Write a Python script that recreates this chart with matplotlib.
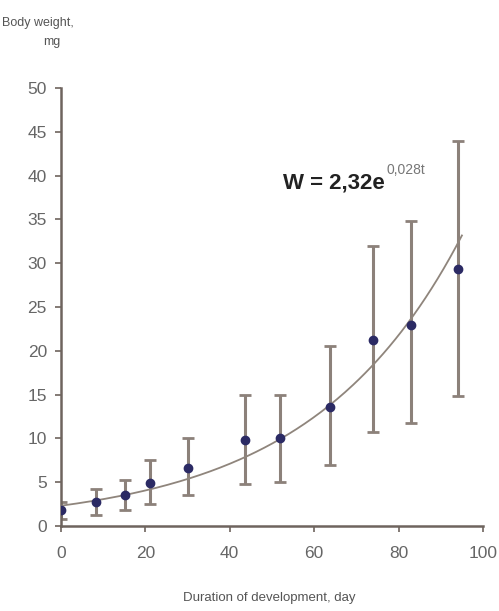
import numpy as np
import matplotlib
matplotlib.use("Agg")
import matplotlib.pyplot as plt

plt.rcParams['font.family'] = ['Liberation Sans', 'DejaVu Sans']

days = [0, 8.3, 15.2, 21.1, 30.1, 43.6, 51.9, 63.7, 74, 83, 94]
weight = [1.8, 2.7, 3.5, 4.9, 6.6, 9.8, 10.0, 13.6, 21.2, 23.0, 29.3]
err_hi = [2.8, 4.2, 5.3, 7.5, 10.0, 15.0, 15.0, 20.5, 32.0, 34.8, 44.0]
err_lo = [0.8, 1.3, 1.8, 2.5, 3.5, 4.8, 5.0, 7.0, 10.7, 11.8, 14.8]
fit_a = 2.32
fit_b = 0.028
x_ticks = [0, 20, 40, 60, 80, 100]
y_ticks = [0, 5, 10, 15, 20, 25, 30, 35, 40, 45, 50]

fig = plt.figure(figsize=(4.99, 6.11), dpi=100)
ax = fig.add_axes([0.122, 0.139, 0.846, 0.717])

d = np.array(days)
w = np.array(weight)
lo = w - np.array(err_lo)
hi = np.array(err_hi) - w
ax.errorbar(d, w, yerr=[lo, hi], fmt='none', ecolor='#8c817a', elinewidth=2.2,
            capsize=4, capthick=2, zorder=2)
xf = np.linspace(0, 95, 200)
ax.plot(xf, fit_a * np.exp(fit_b * xf), color='#8f857c', lw=1.3, zorder=3)
ax.plot(d, w, 'o', color='#2b2a64', ms=6, zorder=4)

ax.set_xlim(0, 100)
ax.set_ylim(0, 50)
ax.set_xticks(x_ticks)
ax.set_yticks(y_ticks)
for s in ['top', 'right']:
    ax.spines[s].set_visible(False)
for s in ['left', 'bottom']:
    ax.spines[s].set_color('#6e645e')
    ax.spines[s].set_linewidth(1.8)
ax.tick_params(colors='#6e645e', labelcolor='#666666', labelsize=12.5, length=4, width=1.2)
ax.tick_params(axis='x', pad=10)
ax.tick_params(axis='y', pad=6)

ax.text(52.6, 39.2, 'W = 2,32e', fontsize=16, fontweight='bold',
        color='#222222', va='center', ha='left')
ax.text(77.2, 40.6, '0,028t', fontsize=10, color='#777777', va='center', ha='left')

fig.text(0.076, 0.963, 'Body weight,', fontsize=9, color='#555555', ha='center', va='center')
fig.text(0.104, 0.931, 'mg', fontsize=9, color='#555555', ha='center', va='center')
fig.text(0.54, 0.021, 'Duration of development, day', fontsize=9.5, color='#555555',
         ha='center', va='center')

fig.savefig('out.png', dpi=100)
